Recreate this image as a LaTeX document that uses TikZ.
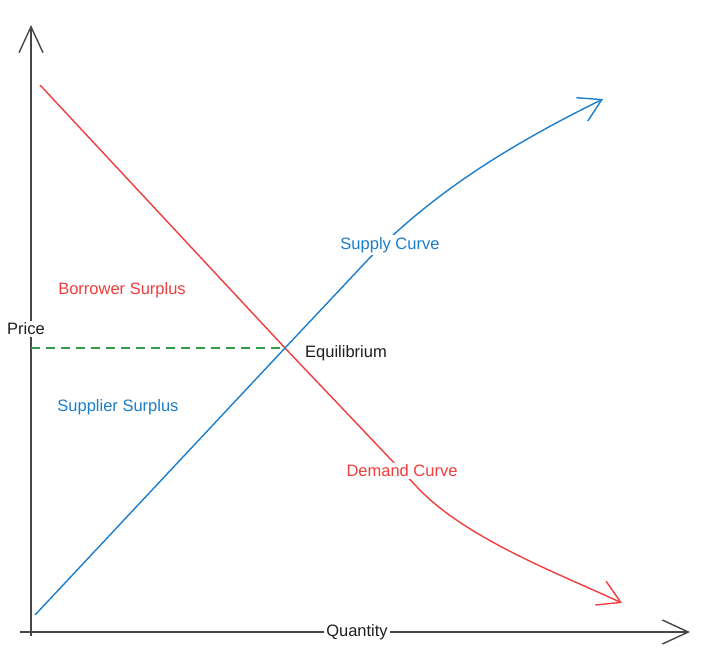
\documentclass[tikz,border=0pt]{standalone}
\usepackage{fontspec}
\setmainfont{Liberation Sans}
\usepackage{tikz}
\usetikzlibrary{arrows.meta}
\definecolor{axisGray}{RGB}{70, 70, 70}
\definecolor{demandRed}{RGB}{240, 62, 62}
\definecolor{supplyBlue}{RGB}{28, 126, 204}
\definecolor{eqGreen}{RGB}{47, 158, 68}
\definecolor{textBlack}{RGB}{30, 30, 30}

\begin{document}
\begin{tikzpicture}[x=1pt, y=-1pt,
    axisline/.style={draw=axisGray, line width=1.8pt, -{Straight Barb[length=26pt, width=24pt, line width=1.4pt]}},
    curveline/.style={line width=1.4pt, -{Straight Barb[length=22pt, width=26pt]}},
    lbl/.style={font=\fontsize{16.5}{19}\selectfont, fill=white, inner sep=2pt}]
\useasboundingbox (0,0) rectangle (720,665);

% Axes
\coordinate (origin) at (31,632);
\coordinate (yTip) at (31,25);
\coordinate (xTip) at (690,632);
\draw[axisline] (20,632) -- (xTip);
\draw[axisline] (31,636) -- (yTip);

% Curves
\coordinate (eq) at (285,348);
\coordinate (dStart) at (40,85);
\coordinate (dBend) at (417,487);
\coordinate (dEnd) at (622,603);
\coordinate (sStart) at (35,615);
\coordinate (sBend) at (363,265);
\coordinate (sEnd) at (603,99);
\draw[curveline, demandRed] (dStart) -- (eq) -- (dBend)
    .. controls (465,538) and (555,572) .. (dEnd);
\draw[curveline, supplyBlue] (sStart) -- (eq) -- (sBend)
    .. controls (433,190) and (520,140) .. (sEnd);
\draw[eqGreen, line width=1.2pt, dash pattern=on 9pt off 6pt] (origin |- eq) -- (eq);

% Labels
\foreach \name/\pos/\col/\txt in {
    price/{26,329}/textBlack/Price,
    quantity/{357,632}/textBlack/Quantity,
    equilibrium/{346,353}/textBlack/Equilibrium,
    borrower/{122,290}/demandRed/Borrower Surplus,
    supplier/{118,407}/supplyBlue/Supplier Surplus,
    supply/{390,245}/supplyBlue/Supply Curve,
    demand/{402,471}/demandRed/Demand Curve
} {
    \node[lbl, text=\col] (\name) at (\pos) {\txt};
}
\end{tikzpicture}
\end{document}
